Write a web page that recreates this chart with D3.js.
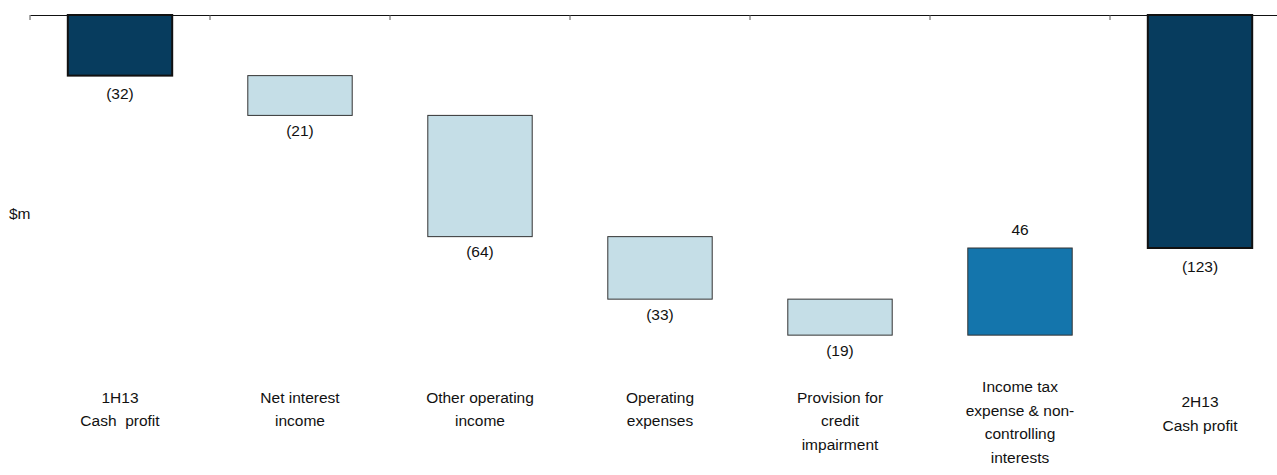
<!DOCTYPE html>
<html>
<head>
<meta charset="utf-8">
<script src="https://cdn.jsdelivr.net/npm/d3@7"></script>
<style>
  html, body { margin: 0; padding: 0; background: #ffffff; }
  svg { display: block; font-family: "Liberation Sans", Arial, sans-serif; }
  text { white-space: pre; }
</style>
</head>
<body>
<svg id="chart" width="1277" height="475"></svg>
<script>
// ---- Data ----
const categories = [
  "1H13\nCash  profit",
  "Net interest\nincome",
  "Other operating\nincome",
  "Operating\nexpenses",
  "Provision for\ncredit\nimpairment",
  "Income tax\nexpense & non-\ncontrolling\ninterests",
  "2H13\nCash profit"
];
const values = [-32, -21, -64, -33, -19, 46, -123];
const kinds = ["total", "change", "change", "change", "change", "change", "total"];
const valueLabels = ["(32)", "(21)", "(64)", "(33)", "(19)", "46", "(123)"];
const unitLabel = "$m";

// ---- Layout ----
const FONT = 15.5;
const svg = d3.select("#chart");
const x = d3.scaleBand()
  .domain(categories)
  .range([30, 1290])
  .paddingInner(0.42)
  .paddingOuter(0.21);
const y = d3.scaleLinear().domain([0, -123]).range([15, 248]);

// waterfall geometry
let running = 0;
const bars = categories.map((c, i) => {
  let start, end;
  if (kinds[i] === "total") { start = 0; end = values[i]; running = values[i]; }
  else { start = running; end = running + values[i]; running = end; }
  return { cat: c, kind: kinds[i], value: values[i], start, end, label: valueLabels[i] };
});

const fillFor = d => d.kind === "total" ? "#073c5e" : (d.value < 0 ? "#c5dee7" : "#1475ac");

// axis line at zero with downward ticks at band boundaries
const axis = d3.axisBottom(x).tickSize(0).tickSizeOuter(0).tickFormat("");
const axisG = svg.append("g").attr("transform", `translate(0,${y(0)})`).call(axis);
axisG.select(".domain").attr("stroke", "#111").attr("stroke-width", 1.2);
axisG.selectAll(".tick").remove();
const boundaries = d3.range(categories.length + 1).map(i => x.range()[0] + i * x.step());
axisG.selectAll("line.bnd").data(boundaries).enter().append("line")
  .attr("class", "bnd")
  .attr("x1", d => d).attr("x2", d => d).attr("y1", 0).attr("y2", 5)
  .attr("stroke", "#555").attr("stroke-width", 1);

// bars
svg.append("g").selectAll("rect").data(bars).enter().append("rect")
  .attr("x", d => x(d.cat))
  .attr("width", x.bandwidth())
  .attr("y", d => Math.min(y(d.start), y(d.end)))
  .attr("height", d => Math.abs(y(d.end) - y(d.start)))
  .attr("fill", fillFor)
  .attr("stroke", d => d.kind === "total" ? "#111" : "#333")
  .attr("stroke-width", d => d.kind === "total" ? 2 : 1);

// value labels
svg.append("g").selectAll("text").data(bars).enter().append("text")
  .attr("x", d => x(d.cat) + x.bandwidth() / 2)
  .attr("y", d => d.value < 0
    ? Math.max(y(d.start), y(d.end)) + (d.kind === "total" ? 23.5 : 20.5)
    : Math.min(y(d.start), y(d.end)) - 13.5)
  .attr("text-anchor", "middle")
  .attr("font-size", FONT)
  .attr("fill", "#111")
  .text(d => d.label);

// category labels
const lineH = 23.5;
const catG = svg.append("g");
categories.forEach((c, i) => {
  const lines = c.split("\n");
  let top = 402.5;
  if (lines.length === 4) top = 392;
  if (i === categories.length - 1) top = 407;
  const t = catG.append("text")
    .attr("text-anchor", "middle")
    .attr("font-size", FONT)
    .attr("fill", "#111");
  lines.forEach((ln, j) => {
    t.append("tspan")
      .attr("x", x(c) + x.bandwidth() / 2)
      .attr("y", top + j * lineH)
      .text(ln);
  });
});

// unit label
svg.append("text")
  .attr("x", 9).attr("y", 219)
  .attr("font-size", FONT).attr("fill", "#111")
  .text(unitLabel);
</script>
</body>
</html>
